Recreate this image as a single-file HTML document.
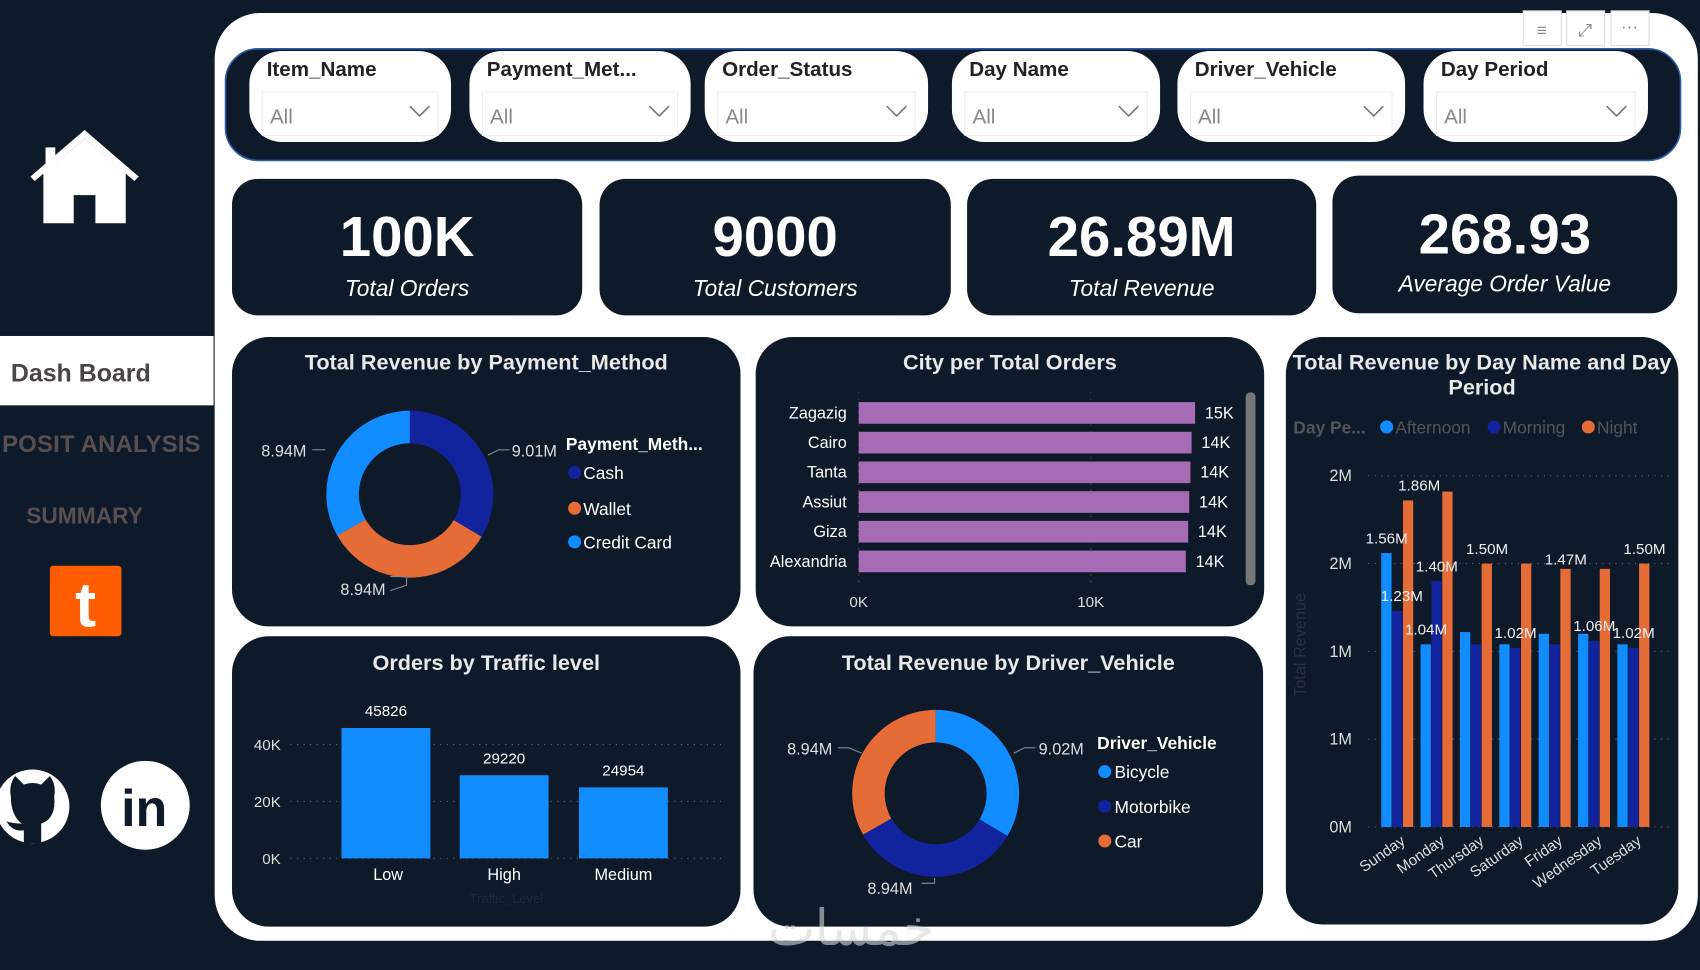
<!DOCTYPE html>
<html><head><meta charset="utf-8">
<style>
html,body{margin:0;padding:0;background:#0e1a29;width:1700px;height:970px;overflow:hidden}
svg{display:block}
text{font-family:"Liberation Sans","Noto Sans CJK SC",sans-serif}
</style></head>
<body>
<svg id="s" width="1700" height="970" viewBox="0 0 1568 895" preserveAspectRatio="none" xmlns="http://www.w3.org/2000/svg">
<rect x="0" y="0" width="1568" height="895" fill="#0e1a29"/>
<g fill="#fff">
<polygon points="78,120 28,163 32,167 78,128 124,167 128,163" />
<polygon points="40,160 78,128 116,160 116,206 88,206 88,180 68,180 68,206 40,206"/>
<rect x="42" y="136" width="9" height="18"/>
</g>
<rect x="0" y="310" width="197" height="64" fill="#fff"/>
<text x="10" y="352" font-size="23" font-weight="bold" fill="#4a4448">Dash Board</text>
<text x="2" y="417" font-size="22" font-weight="bold" fill="#5a4f50" textLength="183">POSIT ANALYSIS</text>
<text x="78" y="483" font-size="21" font-weight="bold" fill="#5a4f50" text-anchor="middle">SUMMARY</text>
<rect x="46" y="522" width="66" height="65" rx="3" fill="#fe5d02"/>
<text x="79" y="578" font-size="58" font-weight="bold" fill="#fff" text-anchor="middle">t</text>
<g>
<circle cx="30" cy="744" r="34" fill="#fff"/>
<path d="M10,735 Q8,724 14,716 L22,724 Q30,721 38,724 L46,716 Q52,724 50,735 Q52,755 38,760 L38,778 L22,778 L22,766 Q12,768 6,758 Q14,760 20,760 Q10,752 10,735Z" fill="#0e1a29"/>
</g>
<g>
<circle cx="134" cy="743" r="41" fill="#fff"/>
<text x="133" y="762" font-size="48" font-weight="bold" fill="#0e1a29" text-anchor="middle">in</text>
</g>
<rect x="198" y="12" width="1368" height="856" rx="42" fill="#fff"/>
<g>
<rect x="1405" y="10" width="35" height="32" fill="#fff" stroke="#ddd"/><text x="1422" y="33" font-size="16" fill="#888" text-anchor="middle">≡</text>
<rect x="1445" y="10" width="35" height="32" fill="#fff" stroke="#ddd"/><text x="1462" y="33" font-size="16" fill="#888" text-anchor="middle">⤢</text>
<rect x="1486" y="10" width="35" height="32" fill="#fff" stroke="#ddd"/><text x="1503" y="30" font-size="16" fill="#888" text-anchor="middle">···</text>
</g>
<rect x="208" y="45" width="1342" height="103" rx="30" fill="#0e1a29" stroke="#2a5fa8" stroke-width="1.5"/>
<g id="filters"></g>
<g id="kpis"></g>
<g id="cards"></g>
<g id="charts"></g>
<text x="785" y="872" font-size="46" fill="#d8d8d8" opacity="0.6" text-anchor="middle">خمسات</text>
</svg>
<script>
const NS="http://www.w3.org/2000/svg";
function mk(parent,tag,attrs,txt){const e=document.createElementNS(NS,tag);for(const k in attrs)e.setAttribute(k,attrs[k]);if(txt!==undefined)e.textContent=txt;parent.appendChild(e);return e;}
const C_LB="#118dff",C_NV="#12239e",C_OR="#e66c37",C_PU="#a66bb5";

const filterTitles=["Item_Name","Payment_Met...","Order_Status","Day Name","Driver_Vehicle","Day Period"];
const filterX=[[230,416],[433,637],[650,856],[878,1070],[1086,1296],[1313,1520]];
const fg=document.getElementById('filters');
filterTitles.forEach((t,i)=>{
 const [a,b]=filterX[i];
 const g=mk(fg,'g',{});
 
 
 mk(g,'rect',{x:a,y:47,width:b-a,height:84,rx:30,fill:'#fff'});
 mk(g,'text',{x:a+16,y:70,'font-size':19,'font-weight':'bold',fill:'#222'},t);
 mk(g,'rect',{x:a+12,y:85,width:b-a-24,height:40,fill:'#fff',stroke:'#eee'});
 mk(g,'text',{x:a+19,y:114,'font-size':19,fill:'#888'},'All');
 mk(g,'polyline',{points:`${b-38},98 ${b-29},107 ${b-20},98`,fill:'none',stroke:'#777','stroke-width':1.5});
});

const kpiValues=["100K","9000","26.89M","268.93"];
const kpiLabels=["Total Orders","Total Customers","Total Revenue","Average Order Value"];
const kpiX=[[214,537],[553,877],[892,1214],[1229,1547]];
const kg=document.getElementById('kpis');
kpiValues.forEach((v,i)=>{
 const [a,b]=kpiX[i];const cx=(a+b)/2;
 const g=mk(kg,'g',{});
 
 
 mk(g,'rect',{x:a,y:i==3?162:165,width:b-a,height:i==3?127:126,rx:24,fill:'#0e1a29'});
 mk(g,'text',{x:cx,y:i==3?234:236,'font-size':52,'font-weight':'bold',fill:'#fff','text-anchor':'middle','font-family':'Liberation Sans Narrow, Liberation Sans, sans-serif'},v);
 mk(g,'text',{x:cx,y:i==3?269:273,'font-size':21,'font-style':'italic',fill:'#fff','text-anchor':'middle','font-family':'Liberation Sans Narrow, Liberation Sans, sans-serif'},kpiLabels[i]);
});

const cards=[["payment-card",214,311,469,267,"Total Revenue by Payment_Method",334],["city-card",697,311,469,267,"City per Total Orders",334],["day-card",1186,311,362,542,"Total Revenue by Day Name and Day",334],["traffic-card",214,587,469,268,"Orders by Traffic level",611],["vehicle-card",695,587,470,268,"Total Revenue by Driver_Vehicle",611]];
const cg=document.getElementById('cards');
cards.forEach(c=>{
 const g=mk(cg,'g',{});
 
 
 mk(g,'rect',{x:c[1],y:c[2],width:c[3],height:c[4],rx:34,fill:'#0e1a29'});
 mk(g,'text',{x:c[1]+c[3]/2,y:c[6]+7,'font-size':20,'font-weight':'bold',fill:'#e8e8e8','text-anchor':'middle'},c[5]);
});
mk(cg,'text',{x:1367,y:364,'font-size':20,'font-weight':'bold',fill:'#e8e8e8','text-anchor':'middle'},'Period');

const ch=document.getElementById('charts');

function donut(g,cx,cy,ro,ri,vals,cols,names){
 const tot=vals.reduce((a,b)=>a+b,0);let a0=-Math.PI/2;
 vals.forEach((v,i)=>{
  const a1=a0+v/tot*2*Math.PI;
  const p=(r,a)=>[cx+r*Math.cos(a),cy+r*Math.sin(a)];
  const [x1,y1]=p(ro,a0),[x2,y2]=p(ro,a1),[x3,y3]=p(ri,a1),[x4,y4]=p(ri,a0);
  const lg=(a1-a0)>Math.PI?1:0;
  const s=mk(g,'path',{d:`M${x1},${y1}A${ro},${ro} 0 ${lg} 1 ${x2},${y2}L${x3},${y3}A${ri},${ri} 0 ${lg} 0 ${x4},${y4}Z`,fill:cols[i]});
  
  
  a0=a1;
 });
}

const payNames=["Cash","Wallet","Credit Card"];
const payValues=[9.01,8.94,8.94];
const payLabels=["9.01M","8.94M","8.94M"];
{
 const g=mk(ch,'g',{});
 
 
 donut(g,378,456,77,47,payValues,[C_NV,C_OR,C_LB],payNames);
 mk(g,'polyline',{points:'450,420 460,415 470,415',fill:'none',stroke:'#888'});
 mk(g,'text',{x:472,y:421,'font-size':15,fill:'#ddd'},payLabels[0]);
 mk(g,'polyline',{points:'360,532 375,532 375,540 360,545',fill:'none',stroke:'#888'});
 mk(g,'text',{x:314,y:549,'font-size':15,fill:'#ddd'},payLabels[1]);
 mk(g,'polyline',{points:'300,415 288,415',fill:'none',stroke:'#888'});
 mk(g,'text',{x:241,y:421,'font-size':15,fill:'#ddd'},payLabels[2]);
 mk(g,'text',{x:522,y:415,'font-size':16,'font-weight':'bold',fill:'#fff'},'Payment_Meth...');
 const lc=[C_NV,C_OR,C_LB],ly=[436,469,500];
 payNames.forEach((n,i)=>{const e=mk(g,'g',{});
  mk(e,'circle',{cx:530,cy:ly[i],r:6,fill:lc[i]});mk(e,'text',{x:538,y:ly[i]+6,'font-size':16,fill:'#fff'},n);});
}

const cityNames=["Zagazig","Cairo","Tanta","Assiut","Giza","Alexandria"];
const cityValues=[14.5,14.35,14.3,14.25,14.2,14.1];
const cityLabels=["15K","14K","14K","14K","14K","14K"];
const cityTicks=[0,10];
{
 const g=mk(ch,'g',{});
 
 
 const xs=v=>792+v*21.4, y0=368, step=27.4, bh=20;
 cityTicks.forEach(t=>{mk(g,'line',{x1:xs(t),y1:362,x2:xs(t),y2:540,stroke:'#556',"stroke-dasharray":'1,5'});
  const tl=mk(g,'text',{x:xs(t),y:560,'font-size':14,fill:'#ddd','text-anchor':'middle'},t+'K');});
 cityNames.forEach((n,i)=>{
  const yc=y0+i*step+bh/2+3;
  const b=mk(g,'rect',{x:xs(0),y:yc-bh/2,width:xs(cityValues[i])-xs(0),height:bh,fill:C_PU});
  
  mk(g,'text',{x:781,y:yc+5,'font-size':15,fill:'#fff','text-anchor':'end'},n);
  mk(g,'text',{x:xs(cityValues[i])+9,y:yc+5,'font-size':15,fill:'#fff'},cityLabels[i]);
 });
 const sb=mk(g,'rect',{x:1149,y:362,width:9,height:178,rx:4,fill:'#777'});
}

const dayNames=["Sunday","Monday","Thursday","Saturday","Friday","Wednesday","Tuesday"];
const afternoonValues=[1.56,1.04,1.11,1.04,1.10,1.10,1.04];
const morningValues=[1.23,1.40,1.04,1.02,1.04,1.06,1.02];
const nightValues=[1.86,1.91,1.50,1.50,1.47,1.47,1.50];
const dayTicks=[0,0.5,1,1.5,2];
const dayTickLabels=["0M","1M","1M","2M","2M"];
{
 const g=mk(ch,'g',{});
 
 
 const ys=v=>763-v*162, gx0=1274, gw=36.3, bw=10;
 mk(g,'text',{x:1193,y:400,'font-size':16,'font-weight':'bold',fill:'#555'},'Day Pe...');
 [["Afternoon",C_LB,1279],["Morning",C_NV,1378],["Night",C_OR,1465]].forEach(l=>{const e=mk(g,'g',{});
  mk(e,'circle',{cx:l[2],cy:394,r:6,fill:l[1]});mk(e,'text',{x:l[2]+8,y:400,'font-size':16,fill:'#555'},l[0]);});
 mk(g,'text',{x:1204,y:595,'font-size':15,fill:'#2a2f3a','text-anchor':'middle',transform:'rotate(-90 1204 595)'},'Total Revenue');
 dayTicks.forEach((t,i)=>{mk(g,'line',{x1:1262,y1:ys(t),x2:1540,y2:ys(t),stroke:'#667','stroke-dasharray':'1,5'});
  const tl=mk(g,'text',{x:1247,y:ys(t)+5,'font-size':15,fill:'#ddd','text-anchor':'end'},dayTickLabels[i]);});
 const series=[afternoonValues,morningValues,nightValues],cols=[C_LB,C_NV,C_OR],sn=['afternoon','morning','night'];
 dayNames.forEach((d,i)=>{
  const x0=gx0+i*gw;
  series.forEach((s,k)=>{const b=mk(g,'rect',{x:x0+k*bw,y:ys(s[i]),width:bw-0.5,height:ys(0)-ys(s[i]),fill:cols[k]});
   });
  const lx=x0+bw*1.5+8, ly=778;
  mk(g,'text',{x:lx,y:ly,'font-size':14,fill:'#ddd','text-anchor':'end',transform:`rotate(-35 ${lx} ${ly})`},d);
 });
 const fmt=v=>v.toFixed(2)+'M';
 // [category, series, dx, dy]
 const lab=[[0,0,0,-14],[0,1,4,-14],[0,2,10,-14],[1,1,0,-14],[1,0,0,-14],[2,2,0,-14],[3,1,0,-14],[4,2,0,-9],[5,1,0,-14],[6,2,0,-14],[6,1,0,-14]];
 lab.forEach(([i,k,dx,dy])=>{const s=series[k];const x=gx0+i*gw+k*bw+bw/2+dx;
  mk(g,'text',{x:x,y:ys(s[i])+dy+5,'font-size':14,fill:'#eee','text-anchor':'middle'},fmt(s[i]));});
}

const trafficNames=["Low","High","Medium"];
const trafficValues=[45826,29220,24954];
const trafficTicks=[0,20000,40000];
{
 const g=mk(ch,'g',{});
 
 
 const ys=v=>792-v*0.002625, bx=[315,424,534], bw=82;
 trafficTicks.forEach(t=>{mk(g,'line',{x1:268,y1:ys(t),x2:665,y2:ys(t),stroke:'#667','stroke-dasharray':'1,5'});
  const tl=mk(g,'text',{x:259,y:ys(t)+5,'font-size':14,fill:'#ddd','text-anchor':'end'},(t/1000)+'K');});
 trafficNames.forEach((n,i)=>{
  const b=mk(g,'rect',{x:bx[i],y:ys(trafficValues[i]),width:bw,height:ys(0)-ys(trafficValues[i]),fill:C_LB});
  
  mk(g,'text',{x:bx[i]+bw/2,y:ys(trafficValues[i])-11,'font-size':14,fill:'#fff','text-anchor':'middle'},String(trafficValues[i]));
  mk(g,'text',{x:bx[i]+bw/2+(i==0?2:0),y:812,'font-size':15,fill:'#fff','text-anchor':'middle'},n);
 });
 mk(g,'text',{x:467,y:833,'font-size':12,fill:'#1e2a3a','text-anchor':'middle'},'Traffic_Level');
}

const vehNames=["Bicycle","Motorbike","Car"];
const vehValues=[9.02,8.94,8.94];
const vehLabels=["9.02M","8.94M","8.94M"];
{
 const g=mk(ch,'g',{});
 
 
 donut(g,863,732,77,47,vehValues,[C_LB,C_NV,C_OR],vehNames);
 mk(g,'polyline',{points:'935,695 945,690 955,690',fill:'none',stroke:'#888'});
 mk(g,'text',{x:958,y:696,'font-size':15,fill:'#ddd'},vehLabels[0]);
 mk(g,'polyline',{points:'862,810 862,815 850,815',fill:'none',stroke:'#888'});
 mk(g,'text',{x:800,y:825,'font-size':15,fill:'#ddd'},vehLabels[1]);
 mk(g,'polyline',{points:'795,695 783,690 773,690',fill:'none',stroke:'#888'});
 mk(g,'text',{x:726,y:696,'font-size':15,fill:'#ddd'},vehLabels[2]);
 mk(g,'text',{x:1012,y:691,'font-size':16,'font-weight':'bold',fill:'#fff'},'Driver_Vehicle');
 const lc=[C_LB,C_NV,C_OR],ly=[712,744,776];
 vehNames.forEach((n,i)=>{const e=mk(g,'g',{});
  mk(e,'circle',{cx:1019,cy:ly[i],r:6,fill:lc[i]});mk(e,'text',{x:1028,y:ly[i]+6,'font-size':16,fill:'#fff'},n);});
}
</script>
</body></html>
